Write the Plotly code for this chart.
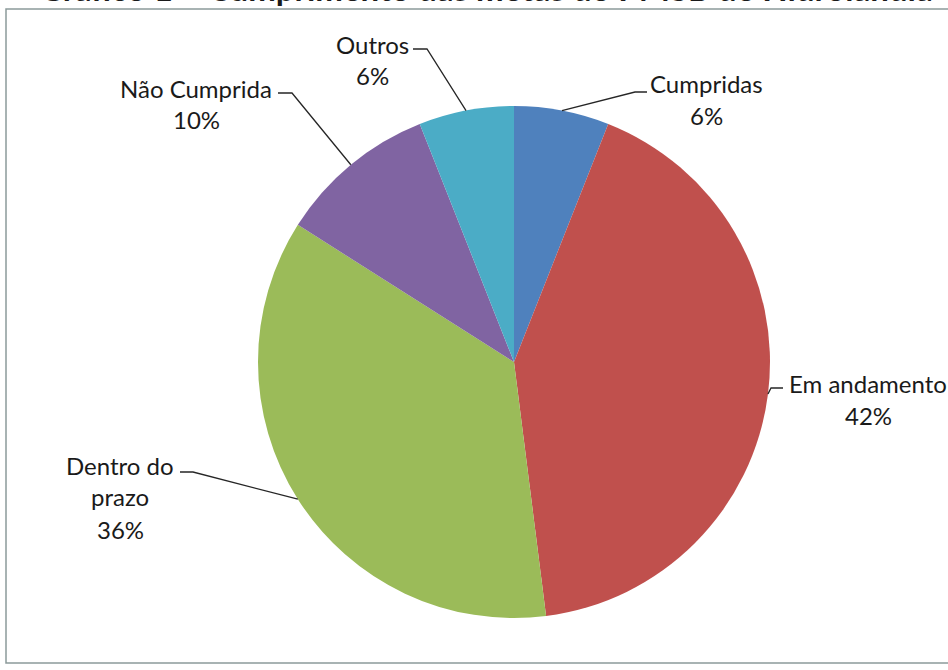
import math
import plotly.graph_objects as go

# Data
categories = ["Cumpridas", "Em andamento", "Dentro do prazo", "Não Cumprida", "Outros"]
shares = [6, 42, 36, 10, 6]
label_lines = [["Cumpridas"], ["Em andamento"], ["Dentro do", "prazo"], ["Não Cumprida"], ["Outros"]]
colors = ["#4F81BD", "#C0504D", "#9BBB59", "#8064A2", "#4BACC6"]
title_text = "Gráfico 1 – Cumprimento das metas do PMSB de Hidrolândia"

W, H = 948, 670
CX, CY, R = 514, 362, 256  # pie centre / radius in pixels

# label block centre x, first-line y; elbow start (near text) and end (towards pie)
label_layout = {
    "Cumpridas":       dict(tx=706, ty=83,  e0=(647, 92),  e1=(635, 92)),
    "Em andamento":    dict(tx=868, ty=383, e0=(783, 388), e1=(771, 388)),
    "Dentro do prazo": dict(tx=120, ty=465, e0=(180, 472), e1=(193, 472)),
    "Não Cumprida":    dict(tx=196, ty=88,  e0=(278, 93),  e1=(292, 93)),
    "Outros":          dict(tx=372, ty=44,  e0=(413, 49),  e1=(427, 49)),
}

FONT = "Lato"
FS = 24
LINE_H = 32


def px(x):
    return x / W


def py(y):
    return (H - y) / H


fig = go.Figure(
    go.Pie(
        labels=categories,
        values=shares,
        sort=False,
        direction="clockwise",
        rotation=0,
        marker=dict(colors=colors, line=dict(width=0)),
        textinfo="none",
        hoverinfo="label+percent",
        domain=dict(x=[px(CX - R), px(CX + R)], y=[py(CY + R), py(CY - R)]),
        showlegend=False,
    )
)

shapes = []
annotations = []
total = sum(shares)
cum = 0
for cat, val, lines in zip(categories, shares, label_lines):
    mid = (cum + val / 2) / total * 2 * math.pi
    cum += val
    ax = CX + R * math.sin(mid)
    ay = CY - R * math.cos(mid)
    lay = label_layout[cat]
    # leader line: short horizontal tick then diagonal to slice edge
    (x0, y0), (x1, y1) = lay["e0"], lay["e1"]
    path = f"M {px(x0)} {py(y0)} L {px(x1)} {py(y1)} L {px(ax)} {py(ay)}"
    shapes.append(dict(type="path", xref="paper", yref="paper", path=path,
                       line=dict(color="#262626", width=1.3)))
    pct = f"{round(val / total * 100)}%"
    for i, t in enumerate(lines + [pct]):
        annotations.append(dict(
            x=px(lay["tx"]), y=py(lay["ty"] + i * LINE_H), xref="paper", yref="paper",
            text=t, showarrow=False, xanchor="center", yanchor="middle",
            font=dict(family=FONT, size=FS, color="#1a1a1a"),
        ))

# chart title sitting above the page edge
annotations.append(dict(
    x=px(486), y=py(-12), xref="paper", yref="paper", text=f"<b>{title_text}</b>",
    showarrow=False, xanchor="center", yanchor="middle",
    font=dict(family=FONT, size=33, color="#1a1a1a"),
))

# outer frame of the chart area
shapes.append(dict(type="rect", xref="paper", yref="paper",
                   x0=px(6), x1=px(960), y0=py(663), y1=py(9),
                   line=dict(color="#8c9a9a", width=1.5), fillcolor="rgba(0,0,0,0)"))

fig.update_layout(
    width=W, height=H,
    margin=dict(l=0, r=0, t=0, b=0),
    paper_bgcolor="white",
    plot_bgcolor="white",
    shapes=shapes,
    annotations=annotations,
)

fig.write_html("out.html")
